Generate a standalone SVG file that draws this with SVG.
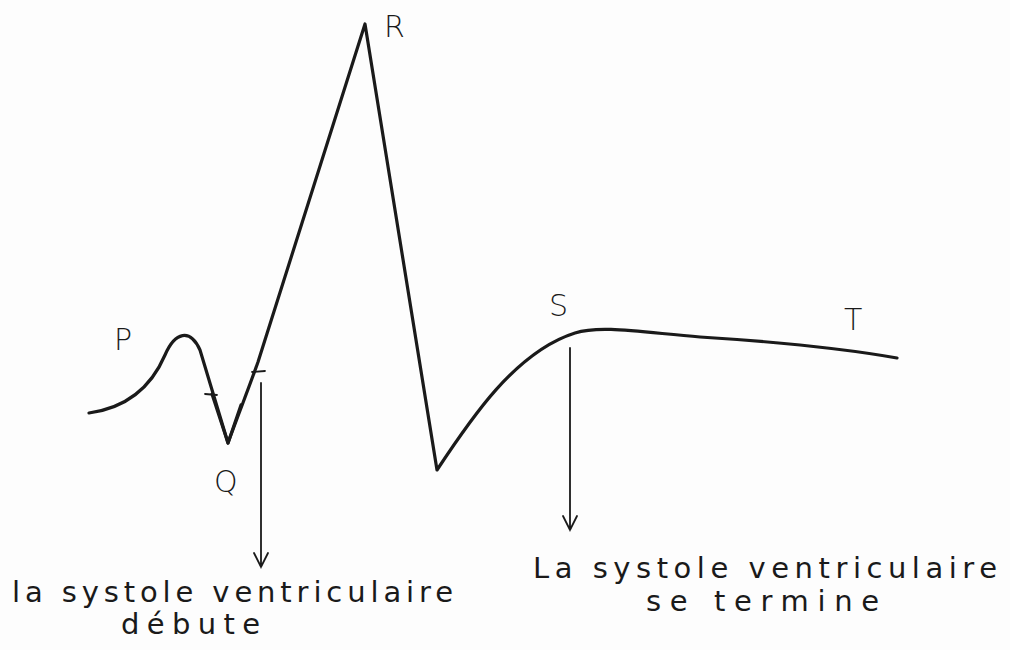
<svg xmlns="http://www.w3.org/2000/svg" width="1010" height="650" viewBox="0 0 1010 650">
<style>
.curve{fill:none;stroke:#1a1a1a;stroke-width:3.2;stroke-linecap:round;stroke-linejoin:round}
.conn{fill:none;stroke:#1a1a1a;stroke-width:1.8;stroke-linecap:round}
.lbl{font-family:"DejaVu Sans","Liberation Sans",sans-serif;font-size:30px;fill:#1a1a1a;font-weight:300}
.txt{font-family:"DejaVu Sans","Liberation Sans",sans-serif;font-size:29px;fill:#1a1a1a;letter-spacing:1px}
</style>
<rect width="1010" height="650" fill="#fdfdfd"/>
<g id="ecg">
<path class="curve" d="M89,413 C125,408 150,390 165,355 C175,332 190,328 200,350 L228,443 C240,410 250,385 258,362 L365,24 L437,470 C470,420 515,352 575,333 C600,325 640,332 700,337 C780,342 840,348 897,358"/>
<path class="curve" d="M212,394 L228,443 L241,405" stroke-width="5.5"/>
<path class="conn" d="M205,394 L217,395 M252,372 L265,371"/>
</g>
<g id="labels">
<text class="lbl" x="114" y="350">P</text>
<text class="lbl" x="384" y="37">R</text>
<text class="lbl" x="549" y="316">S</text>
<text class="lbl" x="844" y="330">T</text>
<text class="lbl" x="214" y="492">Q</text>
</g>
<g id="connectors">
<path class="conn" d="M261,383 L261,567 M254,553 L261,567 L268,553"/>
<path class="conn" d="M570,348 L570,530 M563,516 L570,530 L577,516"/>
</g>
<g id="node-debut">
<text class="txt" x="12" y="602" textLength="442" lengthAdjust="spacing">la systole ventriculaire</text>
<text class="txt" x="121" y="634" textLength="140" lengthAdjust="spacing">débute</text>
</g>
<g id="node-fin">
<text class="txt" x="533" y="578" textLength="465" lengthAdjust="spacing">La systole ventriculaire</text>
<text class="txt" x="646" y="611" textLength="234" lengthAdjust="spacing">se termine</text>
</g>
</svg>
